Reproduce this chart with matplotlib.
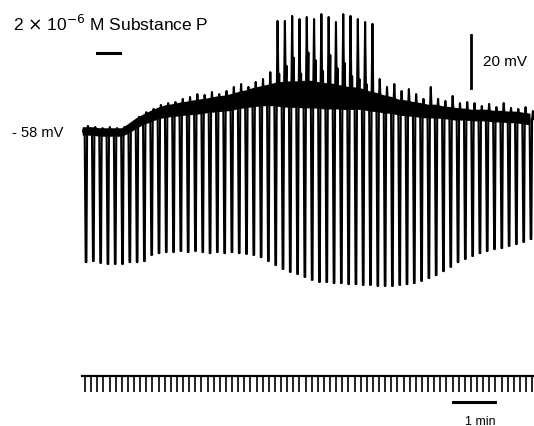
import matplotlib.pyplot as plt
import numpy as np

plt.rcParams['font.family'] = ['Liberation Sans', 'DejaVu Sans']

# recording: one hyperpolarizing current pulse every ~10.4 s
t_first = 4.3   # s
period = 10.42  # s
# membrane potential just before each pulse (mV)
rest = [-57.6, -57.6, -58.0, -58.0, -58.0, -58.0, -56.5, -54.6, -53.1, -52.0,
        -50.8, -50.1, -49.7, -49.3, -48.9, -48.6, -48.2, -47.8, -47.4, -47.1,
        -46.7, -45.9, -45.5, -44.8, -44.4, -44.0, -43.7, -43.7, -43.7, -43.7,
        -43.7, -43.7, -44.0, -44.4, -44.4, -44.8, -45.2, -45.2, -45.5, -46.3,
        -46.7, -47.4, -47.8, -48.6, -48.9, -49.3, -49.7, -50.1, -50.1, -50.5,
        -50.8, -51.2, -51.2, -51.6, -51.6, -51.6, -52.0, -52.0, -52.3, -52.3,
        -52.7, -53.1]
# half-width of the noisy baseline (mV)
noise = [1.6, 1.6, 1.6, 1.6, 1.6, 1.6, 1.9, 2.0, 2.0, 2.2,
         2.2, 2.4, 2.4, 2.6, 2.6, 2.8, 2.8, 2.8, 3.0, 3.0,
         3.2, 3.2, 3.4, 3.6, 3.8, 4.0, 4.4, 4.8, 5.0, 5.0,
         5.2, 5.2, 5.0, 5.0, 4.8, 4.6, 4.4, 4.2, 4.0, 3.8,
         3.6, 3.4, 3.2, 3.0, 3.0, 2.8, 2.8, 2.6, 2.6, 2.4,
         2.4, 2.4, 2.2, 2.2, 2.2, 2.2, 2.2, 2.2, 2.2, 2.2,
         2.2, 2.2]
# bottom of each electrotonic potential (mV)
bottom = [-107.1, -106.7, -107.4, -107.8, -107.8, -107.8, -107.1, -107.1, -106.7, -104.4,
          -103.7, -103.3, -103.3, -102.9, -103.3, -102.9, -103.3, -103.7, -103.3, -103.7,
          -103.3, -103.7, -104.0, -104.4, -105.2, -106.7, -108.2, -109.7, -110.8, -111.6,
          -112.7, -113.8, -114.6, -114.6, -115.0, -115.0, -115.4, -115.4, -115.7, -115.7,
          -116.1, -116.1, -116.1, -115.7, -115.4, -115.0, -114.2, -113.1, -112.0, -110.5,
          -108.9, -107.1, -105.9, -104.8, -103.7, -102.9, -102.2, -101.8, -101.0, -100.3,
          -99.5, -98.4]
# peak of the rebound after each pulse (mV); spikes in the middle
peak = [-55.7, -56.1, -56.5, -56.1, -56.5, -56.1, -54.6, -52.3, -50.5, -49.3,
        -47.8, -47.1, -46.7, -45.5, -44.8, -43.7, -44.0, -42.9, -43.7, -42.5,
        -41.0, -39.9, -41.0, -39.1, -38.0, -35.4, -16.1, -16.1, -14.2, -15.4,
        -14.6, -15.4, -13.5, -14.6, -16.5, -13.5, -14.2, -15.4, -16.5, -17.2,
        -38.0, -41.0, -39.9, -42.5, -41.8, -43.7, -45.5, -41.0, -45.5, -46.3,
        -44.4, -47.1, -46.7, -47.1, -48.2, -47.4, -48.6, -47.1, -48.9, -49.3,
        -48.6, -50.1]
# smaller second depolarization in the firing period
late_idx = [26, 27, 28, 29, 30, 31, 32, 33, 34, 35, 36, 37, 38]
late_peak = [-36, -33, -30, -36, -28, -31, -35, -29, -34, -32, -37, -38, -40]

drug_on, drug_off = 21.4, 54.3  # s, substance P application
scale_mv = 20
scale_s = 60
timer_step = 8.75  # s between timer marks
t_end = 645.0

t_p = t_first + period * np.arange(len(rest))

# build trace
tt, vv = [], []
late = dict(zip(late_idx, late_peak))
for i, t in enumerate(t_p):
    tt += [t - 0.5, t + 1.0, t + 2.0, t + 3.0, t + 4.2, t + 5.5]
    vv += [rest[i], bottom[i], bottom[i], rest[i], peak[i], rest[i]]
    if i in late:
        tt += [t + 6.5, t + 7.0]
        vv += [late[i], rest[i]]

fig = plt.figure(figsize=(5.34, 4.27), dpi=100)
ax = fig.add_axes([0, 0, 1, 1])
ax.set_xlim(-117.14, 645.71)
ax.set_ylim(-168.94, -7.81)
ax.axis('off')

rest_a = np.array(rest)
noise_a = np.array(noise)
tb = np.r_[t_p[0] - 4, t_p]
ax.fill_between(tb, np.r_[rest_a[0] - noise_a[0], rest_a - noise_a],
                np.r_[rest_a[0] + noise_a[0], rest_a + noise_a], color='k', lw=0)
ax.plot(tb, np.r_[rest[0], rest], 'k-', lw=3, solid_capstyle='butt')
ax.plot(tt, vv, 'k-', lw=1.5)

# drug bar and labels
ax.plot([drug_on, drug_off], [-28.2, -28.2], 'k-', lw=2.2)
ax.text(-98.6, -19.5, r'2 $\times$ 10$^{-6}$ M Substance P', fontsize=12.5, va='baseline', ha='left')
ax.text(-26.0, -58, '- 58 mV', fontsize=10.5, va='center', ha='right')

# voltage scale
ax.plot([555.7, 555.7], [-21.4, -21.4 - scale_mv], 'k-', lw=2)
ax.text(572.9, -31.2, '20 mV', fontsize=11, va='center', ha='left')

# timer trace
ax.plot([0, t_end], [-150.1, -150.1], 'k-', lw=1.6)
marks = np.arange(4.3, t_end, timer_step)
ax.vlines(marks, -156.0, -150.1, color='k', lw=1.2)
ax.plot([530, 530 + scale_s], [-160.0, -160.0], 'k-', lw=2.2)
ax.text(568.6, -167.2, '1 min', fontsize=9, va='center', ha='center')

fig.savefig('out.png', dpi=100)
